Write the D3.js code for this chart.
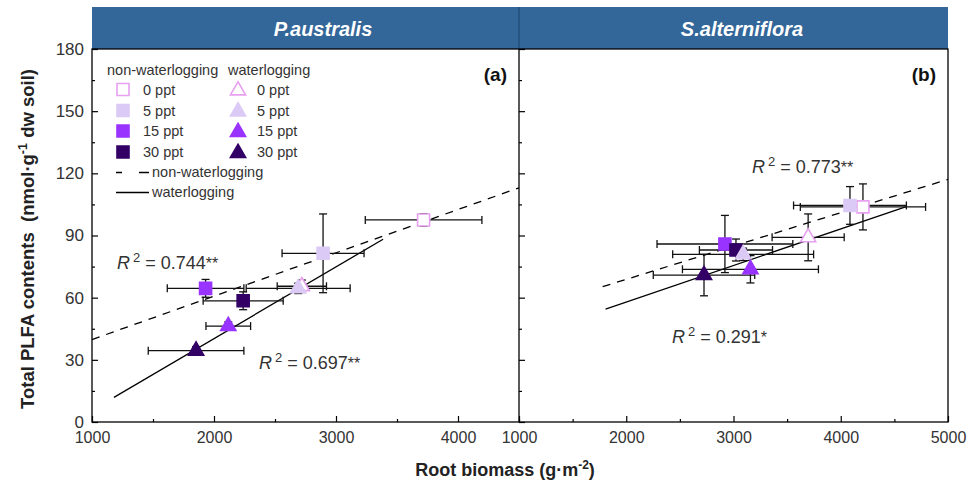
<!DOCTYPE html>
<html>
<head>
<meta charset="utf-8">
<script src="https://cdn.jsdelivr.net/npm/d3@7"></script>
<style>
body { margin: 0; background: #fff; }
text { font-family: "Liberation Sans", Arial, sans-serif; }
</style>
</head>
<body>
<div id="chart-area"></div>
<script>
//============================DATA============================
var salinity = ["0 ppt", "5 ppt", "15 ppt", "30 ppt"];
var colors = ["#ffffff", "#dccaf6", "#9933ff", "#330066"];
var outline = ["#e8a0f0", "#dccaf6", "#9933ff", "#330066"];

// (a) P.australis  -- squares = non-waterlogging, triangles = waterlogging
var aSqX = [3718, 2894, 1931, 2239];
var aSqY = [97.5, 81.4, 64.5, 58.5];
var aSqXErr = [478, 336, 314, 328];
var aSqYErr = [3, 19, 4.3, 4.3];
var aTriX = [2720, 2690, 2117, 1853];
var aTriY = [65.5, 64.5, 46.3, 34.4];
var aTriXErr = [202, 426, 183, 392];
var aTriYErr = [3, 2.5, 2, 2];
var aDashX = [1000, 4500], aDashY = [39.8, 113.0];
var aSolidX = [1180, 3386], aSolidY = [11.9, 88.2];

// (b) S.alterniflora
var bSqX = [4207, 4086, 2920, 3023];
var bSqY = [103.8, 104.5, 85.9, 83.0];
var bSqXErr = [584, 526, 633, 341];
var bSqYErr = [11.1, 9.1, 13.8, 5.3];
var bTriX = [3696, 3090, 3158, 2725];
var bTriY = [89.1, 80.9, 73.7, 70.9];
var bTriXErr = [336, 657, 634, 473];
var bTriYErr = [11.3, 3, 6.6, 10];
var bDashX = [1780, 5000], bDashY = [65.3, 117.1];
var bSolidX = [1807, 4611], bSolidY = [54.5, 103.9];

var xTicksA = [1000, 2000, 3000, 4000], xMinorA = [1500, 2500, 3500, 4500];
var xTicksB = [1000, 2000, 3000, 4000, 5000], xMinorB = [1500, 2500, 3500, 4500];
var yTicks = [0, 30, 60, 90, 120, 150, 180], yMinor = [15, 45, 75, 105, 135, 165];

//============================LAYOUT============================
var W = 971, H = 487;
var pLeft = 92, pMid = 519, pRight = 948, pTop = 49, pBottom = 422;

var svg = d3.select("#chart-area").append("svg")
    .attr("width", W).attr("height", H);

var xA = d3.scaleLinear().domain([1000, 4500]).range([pLeft, pMid]);
var xB = d3.scaleLinear().domain([1000, 5000]).range([pMid, pRight]);
var y = d3.scaleLinear().domain([0, 180]).range([pBottom, pTop]);

// header band
svg.append("rect").attr("x", pLeft).attr("y", 7).attr("width", pRight - pLeft).attr("height", pTop - 7)
    .attr("fill", "#336699");
svg.append("line").attr("x1", pMid).attr("x2", pMid).attr("y1", 7).attr("y2", pTop)
    .attr("stroke", "#24507d").attr("stroke-width", 1.5);
svg.append("text").attr("x", 323).attr("y", 36).attr("text-anchor", "middle")
    .attr("fill", "#fff").attr("font-size", "20px").attr("font-weight", "bold").attr("font-style", "italic")
    .text("P.australis");
svg.append("text").attr("x", 742).attr("y", 36).attr("text-anchor", "middle")
    .attr("fill", "#fff").attr("font-size", "20px").attr("font-weight", "bold").attr("font-style", "italic")
    .text("S.alterniflora");

//============================AXES============================
function xAxis(scale, ticks, minor, labels) {
    var g = svg.append("g").attr("transform", "translate(0," + pBottom + ")");
    g.call(d3.axisBottom(scale).tickValues(ticks).tickSize(-6).tickPadding(10)
        .tickFormat(labels ? d3.format("d") : ""));
    g.append("g").call(d3.axisBottom(scale).tickValues(minor).tickSize(-3).tickFormat(""));
    g.selectAll(".domain").remove();
    g.selectAll("line").attr("stroke", "#000").attr("stroke-width", 1.2);
    g.selectAll("text").attr("font-size", "16px").attr("fill", "#333")
        .attr("font-family", "'Liberation Sans', Arial, sans-serif");
    return g;
}
xAxis(xA, xTicksA, xMinorA, true);
xAxis(xB, xTicksB, xMinorB, true);

function yAxis(xpos, labels) {
    var g = svg.append("g").attr("transform", "translate(" + xpos + ",0)");
    g.call(d3.axisLeft(y).tickValues(yTicks).tickSize(-6).tickPadding(8)
        .tickFormat(labels ? d3.format("d") : ""));
    g.append("g").call(d3.axisLeft(y).tickValues(yMinor).tickSize(-3).tickFormat(""));
    g.selectAll(".domain").remove();
    g.selectAll("line").attr("stroke", "#000").attr("stroke-width", 1.2);
    g.selectAll("text").attr("font-size", "17px").attr("fill", "#333")
        .attr("font-family", "'Liberation Sans', Arial, sans-serif");
}
yAxis(pLeft, true);
yAxis(pMid, false);

// frame
svg.append("rect").attr("x", pLeft).attr("y", pTop).attr("width", pRight - pLeft).attr("height", pBottom - pTop)
    .attr("fill", "none").attr("stroke", "#000").attr("stroke-width", 1.3);
svg.append("line").attr("x1", pMid).attr("x2", pMid).attr("y1", pTop).attr("y2", pBottom)
    .attr("stroke", "#000").attr("stroke-width", 1.3);

// axis titles
svg.append("text").attr("x", 505).attr("y", 476).attr("text-anchor", "middle")
    .attr("font-size", "18px").attr("font-weight", "bold").attr("fill", "#222")
    .call(function(t) {
        t.append("tspan").text("Root biomass (g\u00b7m");
        t.append("tspan").attr("dy", -7).attr("font-size", "12px").text("-2");
        t.append("tspan").attr("dy", 7).text(")");
    });
svg.append("text").attr("transform", "translate(34,239) rotate(-90)").attr("text-anchor", "middle")
    .attr("font-size", "18.5px").attr("font-weight", "bold").attr("fill", "#222")
    .call(function(t) {
        t.append("tspan").text("Total PLFA contents\u00a0 (nmol\u00b7g");
        t.append("tspan").attr("dy", -7).attr("font-size", "12.5px").text("-1");
        t.append("tspan").attr("dy", 7).text(" dw soil)");
    });

//============================MARKS============================
var sq = d3.symbol().type(d3.symbolSquare).size(144);
var tri = d3.symbol().type(d3.symbolTriangle).size(100);

function errBars(g, x, xs, ys, xe, ye) {
    var cap = 4;
    xs.forEach(function(v, i) {
        var cx = x(v), cy = y(ys[i]);
        var x0 = x(v - xe[i]), x1 = x(v + xe[i]);
        var y0 = y(ys[i] - ye[i]), y1 = y(ys[i] + ye[i]);
        var segs = [[x0, cy, x1, cy], [x0, cy - cap, x0, cy + cap], [x1, cy - cap, x1, cy + cap],
                    [cx, y0, cx, y1], [cx - cap, y0, cx + cap, y0], [cx - cap, y1, cx + cap, y1]];
        segs.forEach(function(s) {
            g.append("line").attr("x1", s[0]).attr("y1", s[1]).attr("x2", s[2]).attr("y2", s[3])
                .attr("stroke", "#111").attr("stroke-width", 1.3);
        });
    });
}

function markers(g, x, xs, ys, shape) {
    g.selectAll(null).data(xs).enter().append("path")
        .attr("d", shape)
        .attr("transform", function(d, i) { return "translate(" + x(d) + "," + y(ys[i]) + ")"; })
        .attr("fill", function(d, i) { return colors[i]; })
        .attr("stroke", function(d, i) { return outline[i]; })
        .attr("stroke-width", 1.6);
}

function fitLine(g, x, xs, ys, dash) {
    var line = d3.line().x(function(d) { return x(d); }).y(function(d, i) { return y(ys[i]); });
    g.append("path").attr("d", line(xs)).attr("fill", "none").attr("stroke", "#000")
        .attr("stroke-width", 1.3).attr("stroke-dasharray", dash ? "8,7" : null);
}

function panel(x, d) {
    var g = svg.append("g");
    fitLine(g, x, d.dashX, d.dashY, true);
    fitLine(g, x, d.solidX, d.solidY, false);
    errBars(g, x, d.sqX, d.sqY, d.sqXErr, d.sqYErr);
    errBars(g, x, d.triX, d.triY, d.triXErr, d.triYErr);
    markers(g, x, d.sqX, d.sqY, sq);
    markers(g, x, d.triX, d.triY, tri);
}
panel(xA, { sqX: aSqX, sqY: aSqY, sqXErr: aSqXErr, sqYErr: aSqYErr,
            triX: aTriX, triY: aTriY, triXErr: aTriXErr, triYErr: aTriYErr,
            dashX: aDashX, dashY: aDashY, solidX: aSolidX, solidY: aSolidY });
panel(xB, { sqX: bSqX, sqY: bSqY, sqXErr: bSqXErr, sqYErr: bSqYErr,
            triX: bTriX, triY: bTriY, triXErr: bTriXErr, triYErr: bTriYErr,
            dashX: bDashX, dashY: bDashY, solidX: bSolidX, solidY: bSolidY });

// panel tags
svg.append("text").attr("x", 507).attr("y", 81).attr("text-anchor", "end")
    .attr("font-size", "19px").attr("font-weight", "bold").attr("fill", "#111").text("(a)");
svg.append("text").attr("x", 936).attr("y", 81).attr("text-anchor", "end")
    .attr("font-size", "19px").attr("font-weight", "bold").attr("fill", "#111").text("(b)");

// R squared labels
function r2(xp, yp, val, stars) {
    var t = svg.append("text").attr("x", xp).attr("y", yp).attr("font-size", "18px").attr("fill", "#333");
    t.append("tspan").attr("font-style", "italic").text("R");
    t.append("tspan").attr("dy", -7).attr("dx", 3).attr("font-size", "13px").text("2");
    t.append("tspan").attr("dy", 7).text(" = " + val);
    t.append("tspan").attr("font-size", "16px").text(stars);
}
r2(117, 269, "0.744", "**");
r2(259, 369, "0.697", "**");
r2(752, 173, "0.773", "**");
r2(672, 343, "0.291", "*");

//============================LEGEND============================
var lg = svg.append("g").attr("font-size", "14.5px").attr("fill", "#333");
lg.append("text").attr("x", 107).attr("y", 75).text("non-waterlogging");
lg.append("text").attr("x", 228).attr("y", 75).text("waterlogging");
var rowY = [89.5, 110.5, 131, 152];
salinity.forEach(function(s, i) {
    lg.append("path").attr("d", sq).attr("transform", "translate(123," + rowY[i] + ")")
        .attr("fill", colors[i]).attr("stroke", outline[i]).attr("stroke-width", 1.6);
    lg.append("text").attr("x", 143).attr("y", rowY[i] + 5).text(s);
    lg.append("path").attr("d", tri).attr("transform", "translate(238," + (rowY[i] + 1) + ")")
        .attr("fill", colors[i]).attr("stroke", outline[i]).attr("stroke-width", 1.6);
    lg.append("text").attr("x", 257).attr("y", rowY[i] + 5).text(s);
});
lg.append("line").attr("x1", 116).attr("x2", 149).attr("y1", 172.5).attr("y2", 172.5)
    .attr("stroke", "#000").attr("stroke-width", 1.3).attr("stroke-dasharray", "6,17,10");
lg.append("text").attr("x", 152).attr("y", 177).text("non-waterlogging");
lg.append("line").attr("x1", 116).attr("x2", 149).attr("y1", 192.5).attr("y2", 192.5)
    .attr("stroke", "#000").attr("stroke-width", 1.3);
lg.append("text").attr("x", 152).attr("y", 197).text("waterlogging");
</script>
</body>
</html>
